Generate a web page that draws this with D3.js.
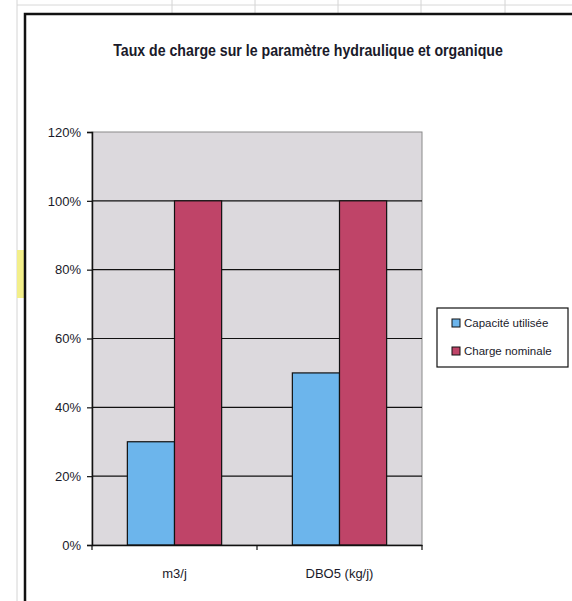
<!DOCTYPE html>
<html>
<head>
<meta charset="utf-8">
<script src="https://cdn.jsdelivr.net/npm/d3@7"></script>
<style>
  body { margin: 0; background: #fff; }
  svg { display: block; font-family: "Liberation Sans Narrow", "Arial Narrow", "Liberation Sans", Arial, sans-serif; }
</style>
</head>
<body>
<div id="chart"></div>
<script>
const categories = ["m3/j", "DBO5 (kg/j)"];
const seriesNames = ["Capacité utilisée", "Charge nominale"];
const capaciteUtilisee = [0.30, 0.50];
const chargeNominale = [1.00, 1.00];
const yTicks = [0, 0.2, 0.4, 0.6, 0.8, 1.0, 1.2];

const width = 572, height = 601;
const colors = ["#6cb5ec", "#bf4468"];

const svg = d3.select("#chart").append("svg")
    .attr("width", width)
    .attr("height", height);

// fond type tableur
const sheet = svg.append("g");
sheet.append("line").attr("x1", 17).attr("x2", width).attr("y1", 5).attr("y2", 5)
    .attr("stroke", "#d8d8d8");
[17, 172, 255, 338, 421, 505].forEach(x => {
    sheet.append("line").attr("x1", x).attr("x2", x).attr("y1", 0).attr("y2", x === 17 ? height : 13)
        .attr("stroke", "#d4d4d4");
});
sheet.append("rect").attr("x", 17).attr("y", 250).attr("width", 7).attr("height", 48)
    .attr("fill", "#f3ef8a");

// cadre du graphique
svg.append("rect")
    .attr("x", 25).attr("y", 14)
    .attr("width", width + 10).attr("height", height + 10)
    .attr("fill", "#fff")
    .attr("stroke", "#111")
    .attr("stroke-width", 2.5);

// titre (police étroite simulée)
svg.append("text")
    .attr("transform", "translate(308,56) scale(0.885,1)")
    .attr("text-anchor", "middle")
    .style("font-size", "16px")
    .style("font-weight", "bold")
    .attr("fill", "#1a1a2a")
    .text("Taux de charge sur le paramètre hydraulique et organique");

const margin = { left: 92, top: 132, right: 422, bottom: 545 };

const x0 = d3.scaleBand().domain(categories).range([margin.left, margin.right]);
const x1 = d3.scaleBand().domain(seriesNames).range([0, x0.bandwidth()])
    .paddingInner(0).paddingOuter(0.75);
const y = d3.scaleLinear().domain([0, 1.2]).range([margin.bottom, margin.top]);

svg.append("rect")
    .attr("x", margin.left).attr("y", margin.top)
    .attr("width", margin.right - margin.left).attr("height", margin.bottom - margin.top)
    .attr("fill", "#dcd9dd")
    .attr("stroke", "#8a8a8a")
    .attr("stroke-width", 1);

svg.append("g")
    .selectAll("line")
    .data(yTicks.filter(d => d > 0 && d < 1.2))
    .join("line")
    .attr("x1", margin.left).attr("x2", margin.right)
    .attr("y1", d => y(d)).attr("y2", d => y(d))
    .attr("stroke", "#111")
    .attr("stroke-width", 1.2);

const data = categories.map((c, i) => ({ cat: c, values: [capaciteUtilisee[i], chargeNominale[i]] }));

svg.append("g")
    .selectAll("g")
    .data(data)
    .join("g")
    .attr("transform", d => `translate(${x0(d.cat)},0)`)
    .selectAll("rect")
    .data(d => d.values.map((v, j) => ({ s: seriesNames[j], v, j })))
    .join("rect")
    .attr("x", d => x1(d.s))
    .attr("y", d => y(d.v))
    .attr("width", x1.bandwidth())
    .attr("height", d => y(0) - y(d.v))
    .attr("fill", d => colors[d.j])
    .attr("stroke", "#111")
    .attr("stroke-width", 1.2);

// axes
const yAxis = svg.append("g")
    .attr("transform", `translate(${margin.left},0)`)
    .call(d3.axisLeft(y).tickValues(yTicks).tickFormat(d3.format(".0%")).tickSize(5).tickPadding(6));
yAxis.select(".domain").attr("stroke", "#111").attr("stroke-width", 1.5);
yAxis.selectAll(".tick line").attr("stroke", "#111").attr("stroke-width", 1.2);
yAxis.selectAll("text").style("font-size", "13px").attr("fill", "#1a1a2a");

const xAxis = svg.append("g")
    .attr("transform", `translate(0,${margin.bottom})`)
    .call(d3.axisBottom(x0).tickSize(0).tickPadding(24));
xAxis.select(".domain").attr("stroke", "#111").attr("stroke-width", 1.5);
xAxis.selectAll("text").style("font-size", "13px").attr("fill", "#1a1a2a");
xAxis.append("g")
    .selectAll("line")
    .data([margin.left, ...categories.map(c => x0(c) + x0.bandwidth())])
    .join("line")
    .attr("x1", d => d).attr("x2", d => d)
    .attr("y1", 0).attr("y2", 5)
    .attr("stroke", "#111").attr("stroke-width", 1.2);

// légende
const legend = svg.append("g").attr("transform", "translate(437,308)");
legend.append("rect")
    .attr("width", 131).attr("height", 59)
    .attr("fill", "#fff").attr("stroke", "#111").attr("stroke-width", 1.2);
seriesNames.forEach((s, i) => {
    const g = legend.append("g").attr("transform", `translate(15,${15 + i * 28})`);
    g.append("rect").attr("x", 0).attr("y", -4).attr("width", 8).attr("height", 8)
        .attr("fill", colors[i]).attr("stroke", "#111");
    g.append("text").attr("x", 12).attr("y", 4)
        .style("font-size", "11.5px")
        .attr("fill", "#1a1a2a")
        .text(s);
});
</script>
</body>
</html>
